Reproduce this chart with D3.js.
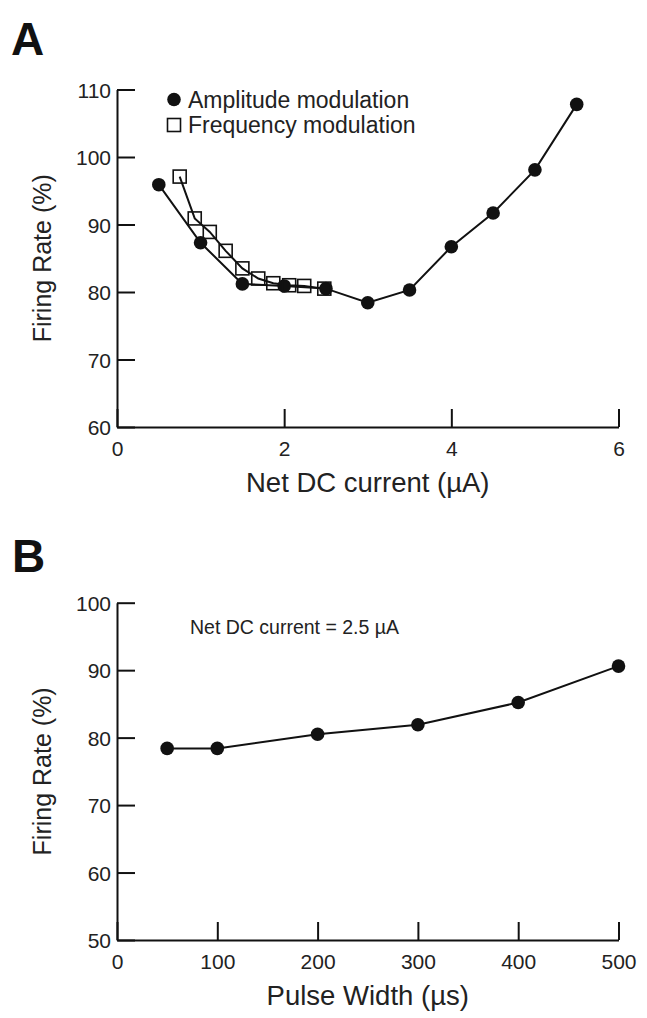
<!DOCTYPE html>
<html>
<head>
<meta charset="utf-8">
<script src="https://cdn.jsdelivr.net/npm/d3@7"></script>
<style>
  html, body { margin: 0; padding: 0; background: #fff; }
  svg { display: block; font-family: "Liberation Sans", Arial, Helvetica, sans-serif; }
</style>
</head>
<body>
<svg id="fig" width="647" height="1018"></svg>
<script>
// Panel A: firing rate vs net DC current
const amCurrent = [0.5, 1.0, 1.5, 2.0, 2.5, 3.0, 3.5, 4.0, 4.5, 5.0, 5.5];
const amRate    = [95.9, 87.3, 81.2, 80.9, 80.5, 78.4, 80.3, 86.7, 91.7, 98.1, 107.8];
const fmCurrent = [0.75, 0.93, 1.11, 1.30, 1.50, 1.69, 1.87, 2.06, 2.24, 2.48];
const fmRate    = [97.1, 90.9, 88.9, 86.1, 83.5, 82.0, 81.3, 81.0, 80.9, 80.5];
const aXTicks = [0, 2, 4, 6];
const aYTicks = [60, 70, 80, 90, 100, 110];
const legendLabels = ["Amplitude modulation", "Frequency modulation"];

// Panel B: firing rate vs pulse width at fixed DC current
const pulseWidth = [50, 100, 200, 300, 400, 500];
const pwRate     = [78.4, 78.4, 80.5, 81.9, 85.2, 90.6];
const bXTicks = [0, 100, 200, 300, 400, 500];
const bYTicks = [50, 60, 70, 80, 90, 100];
const bNote = "Net DC current = 2.5 \u00B5A";

const svg = d3.select("#fig");
svg.append("rect").attr("width", 647).attr("height", 1018).attr("fill", "#fff");

const TICK_FONT = 21, XTITLE_FONT = 27.5, YTITLE_FONT = 25;

function drawAxes(g, x, y, xTicks, yTicks, xTitle, yTitle) {
  const fmt = d3.format("d");
  const xAxis = d3.axisBottom(x).tickValues(xTicks).tickFormat(fmt)
    .tickSize(-18).tickSizeOuter(0).tickPadding(14);
  const yAxis = d3.axisLeft(y).tickValues(yTicks).tickFormat(fmt)
    .tickSize(-18).tickSizeOuter(0).tickPadding(6);
  const gx = g.append("g").attr("transform", `translate(0,${y.range()[0]})`).call(xAxis);
  const gy = g.append("g").attr("transform", `translate(${x.range()[0]},0)`).call(yAxis);
  [gx, gy].forEach(a => {
    a.selectAll("path.domain").attr("stroke", "#111").attr("stroke-width", 2);
    a.selectAll(".tick line").attr("stroke", "#111").attr("stroke-width", 2);
    a.selectAll(".tick text").attr("fill", "#222").attr("font-size", TICK_FONT)
      .attr("font-family", "Liberation Sans, Arial, sans-serif");
  });
  gy.selectAll(".tick text").attr("dy", "0.36em");
  const [x0, x1] = x.range();
  const [y0, y1] = y.range();
  g.append("text").attr("x", (x0 + x1) / 2).attr("y", y0 + 65)
    .attr("text-anchor", "middle").attr("font-size", XTITLE_FONT).attr("fill", "#222").text(xTitle);
  g.append("text").attr("transform", `translate(51,${(y0 + y1) / 2}) rotate(-90)`)
    .attr("text-anchor", "middle").attr("font-size", YTITLE_FONT).attr("fill", "#222").text(yTitle);
}

function drawLine(g, x, y, xs, ys) {
  const pts = xs.map((v, i) => [v, ys[i]]);
  g.append("path").datum(pts)
    .attr("fill", "none").attr("stroke", "#111").attr("stroke-width", 2)
    .attr("d", d3.line().x(d => x(d[0])).y(d => y(d[1])));
  return pts;
}

function dots(g, x, y, pts, r) {
  g.selectAll(null).data(pts).join("circle")
    .attr("cx", d => x(d[0])).attr("cy", d => y(d[1])).attr("r", r).attr("fill", "#111");
}

function squares(g, x, y, pts, s) {
  g.selectAll(null).data(pts).join("rect")
    .attr("x", d => x(d[0]) - s / 2).attr("y", d => y(d[1]) - s / 2)
    .attr("width", s).attr("height", s)
    .attr("fill", "none").attr("stroke", "#111").attr("stroke-width", 1.6);
}

// ---- Panel A ----
const gA = svg.append("g");
gA.append("text").attr("x", 11).attr("y", 55).attr("font-size", 46).attr("font-weight", "bold")
  .attr("fill", "#111").text("A");
const xA = d3.scaleLinear().domain([0, 6]).range([117, 618.5]);
const yA = d3.scaleLinear().domain([60, 110]).range([427, 89.5]);
drawAxes(gA, xA, yA, aXTicks, aYTicks, "Net DC current (\u00B5A)", "Firing Rate (%)");
const fmPts = drawLine(gA, xA, yA, fmCurrent, fmRate);
const amPts = drawLine(gA, xA, yA, amCurrent, amRate);
dots(gA, xA, yA, amPts, 6.8);
squares(gA, xA, yA, fmPts, 13);

// legend
const lg = gA.append("g");
lg.append("circle").attr("cx", 174).attr("cy", 99.5).attr("r", 6.8).attr("fill", "#111");
lg.append("rect").attr("x", 167.5).attr("y", 118.5).attr("width", 13).attr("height", 13)
  .attr("fill", "none").attr("stroke", "#111").attr("stroke-width", 1.6);
lg.selectAll(null).data(legendLabels).join("text")
  .attr("x", 188).attr("y", (d, i) => 107.5 + i * 25.5)
  .attr("font-size", 23).attr("fill", "#222").text(d => d);

// ---- Panel B ----
const gB = svg.append("g");
gB.append("text").attr("x", 12).attr("y", 572).attr("font-size", 46).attr("font-weight", "bold")
  .attr("fill", "#111").text("B");
const xB = d3.scaleLinear().domain([0, 500]).range([117, 618.5]);
const yB = d3.scaleLinear().domain([50, 100]).range([940, 602.7]);
drawAxes(gB, xB, yB, bXTicks, bYTicks, "Pulse Width (\u00B5s)", "Firing Rate (%)");
const pwPts = drawLine(gB, xB, yB, pulseWidth, pwRate);
dots(gB, xB, yB, pwPts, 6.8);
gB.append("text").attr("x", 190).attr("y", 634).attr("font-size", 19.5).attr("fill", "#222").text(bNote);
</script>
</body>
</html>
